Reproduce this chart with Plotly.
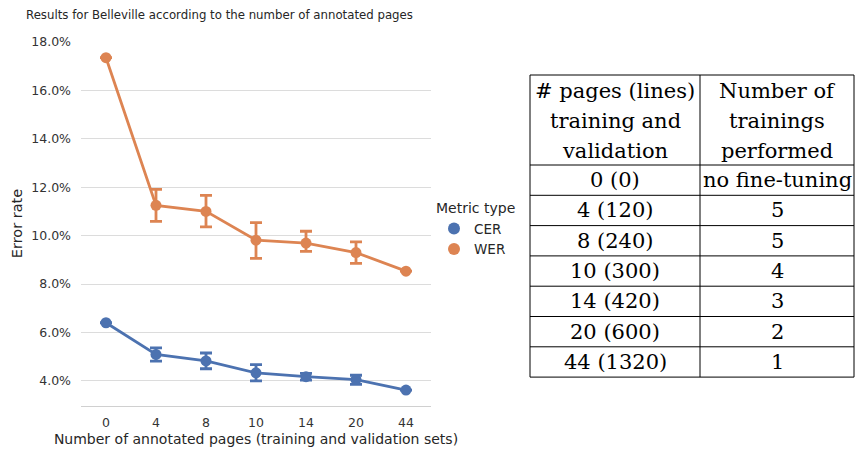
import plotly.graph_objects as go

pages = ["0", "4", "8", "10", "14", "20", "44"]
cer = [6.40, 5.09, 4.82, 4.33, 4.17, 4.05, 3.62]
cer_hi = [0.0, 0.27, 0.33, 0.34, 0.14, 0.18, 0.0]
cer_lo = [0.0, 0.28, 0.32, 0.33, 0.14, 0.20, 0.0]
wer = [17.35, 11.25, 11.00, 9.81, 9.69, 9.30, 8.53]
wer_hi = [0.0, 0.66, 0.66, 0.73, 0.49, 0.44, 0.0]
wer_lo = [0.0, 0.66, 0.64, 0.75, 0.34, 0.45, 0.0]
y_ticks = [4, 6, 8, 10, 12, 14, 16, 18]

table_header_left = ["# pages (lines)", "training and", "validation"]
table_header_right = ["Number of", "trainings", "performed"]
table_col1 = ["0 (0)", "4 (120)", "8 (240)", "10 (300)", "14 (420)", "20 (600)", "44 (1320)"]
table_col2 = ["no fine-tuning", "5", "5", "4", "3", "2", "1"]

BLUE = "#4c72b0"
ORANGE = "#dd8452"
W, H = 855, 452
L, R, T, B = 81, 431, 41, 406  # plot area in pixels

fig = go.Figure()
for name, vals, hi, lo, col in [("CER", cer, cer_hi, cer_lo, BLUE), ("WER", wer, wer_hi, wer_lo, ORANGE)]:
    fig.add_trace(go.Scatter(
        x=pages, y=vals, mode="lines+markers", name=name, showlegend=False,
        line=dict(color=col, width=2.8), marker=dict(color=col, size=11),
        error_y=dict(type="data", array=hi, arrayminus=lo, color=col, thickness=2.8, width=6),
    ))
    fig.add_trace(go.Scatter(x=[None], y=[None], mode="markers", name=name,
                             marker=dict(color=col, size=10)))

# table geometry (pixels -> paper)
tx0, tmid, tx1 = 530, 700, 854
ty_top, ty_head = 75, 165
row_h = 30.3
n_rows = len(table_col1)
ty_bot = ty_head + n_rows * row_h

def px(x):
    return (x - L) / (R - L)

def py(y):
    return (B - y) / (B - T)

shapes = []
line = dict(color="black", width=1)
for x in (tx0, tmid, tx1):
    shapes.append(dict(type="line", xref="paper", yref="paper", x0=px(x), x1=px(x), y0=py(ty_top), y1=py(ty_bot), line=line))
for y in [ty_top, ty_head] + [ty_head + (i + 1) * row_h for i in range(n_rows)]:
    shapes.append(dict(type="line", xref="paper", yref="paper", x0=px(tx0), x1=px(tx1), y0=py(y), y1=py(y), line=line))

annots = []
serif = dict(family="DejaVu Serif", size=21, color="black")
hl = (ty_head - ty_top) / 3
for i, (a, b) in enumerate(zip(table_header_left, table_header_right)):
    yc = ty_top + hl * (i + 0.5) + 1
    annots.append(dict(text=a, x=px((tx0 + tmid) / 2), y=py(yc), xref="paper", yref="paper", showarrow=False, font=serif, xanchor="center", yanchor="middle"))
    annots.append(dict(text=b, x=px((tmid + tx1) / 2), y=py(yc), xref="paper", yref="paper", showarrow=False, font=serif, xanchor="center", yanchor="middle"))
for i, (a, b) in enumerate(zip(table_col1, table_col2)):
    yc = ty_head + row_h * (i + 0.5)
    annots.append(dict(text=a, x=px((tx0 + tmid) / 2), y=py(yc), xref="paper", yref="paper", showarrow=False, font=serif, xanchor="center", yanchor="middle"))
    annots.append(dict(text=b, x=px((tmid + tx1) / 2), y=py(yc), xref="paper", yref="paper", showarrow=False, font=serif, xanchor="center", yanchor="middle"))

annots.append(dict(text="Results for Belleville according to the number of annotated pages",
                   x=px(24), y=py(15), xref="paper", yref="paper", showarrow=False,
                   xanchor="left", yanchor="middle", font=dict(family="DejaVu Sans", size=11.75, color="#262626")))

fig.update_layout(
    width=W, height=H, autosize=False,
    margin=dict(l=L, r=W - R, t=T, b=H - B, autoexpand=False),
    paper_bgcolor="white", plot_bgcolor="white",
    font=dict(family="DejaVu Sans", size=12, color="#333333"),
    shapes=shapes, annotations=annots,
    legend=dict(title=dict(text="Metric type", font=dict(size=14, color="#262626")),
                x=px(434), y=py(195), xanchor="left", yanchor="top",
                font=dict(size=13.5, color="#262626"), bgcolor="rgba(0,0,0,0)",
                itemsizing="constant", tracegroupgap=0),
    showlegend=True,
)
fig.update_xaxes(type="category", range=[-0.5, 6.5], showgrid=False, showline=True,
                 linecolor="#d0d0d0", linewidth=1, ticks="", zeroline=False, automargin=False,
                 ticklabelstandoff=5,
                 title=dict(text="Number of annotated pages (training and validation sets)", standoff=5,
                            font=dict(size=14, color="#262626")),
                 tickfont=dict(size=12.5, color="#333333"))
fig.update_yaxes(range=[2.96, 18.04], tickvals=y_ticks, ticktext=[f"{v:.1f}%" for v in y_ticks],
                 showgrid=True, gridcolor="#dcdcdc", gridwidth=1, zeroline=False, showline=False,
                 ticks="", ticklabelstandoff=9, automargin=False,
                 title=dict(text="Error rate", standoff=5, font=dict(size=14.5, color="#262626")),
                 tickfont=dict(size=12.5, color="#333333"))

fig.write_html("out.html", post_script="document.body.style.margin='0';",
               config={"displayModeBar": False})
